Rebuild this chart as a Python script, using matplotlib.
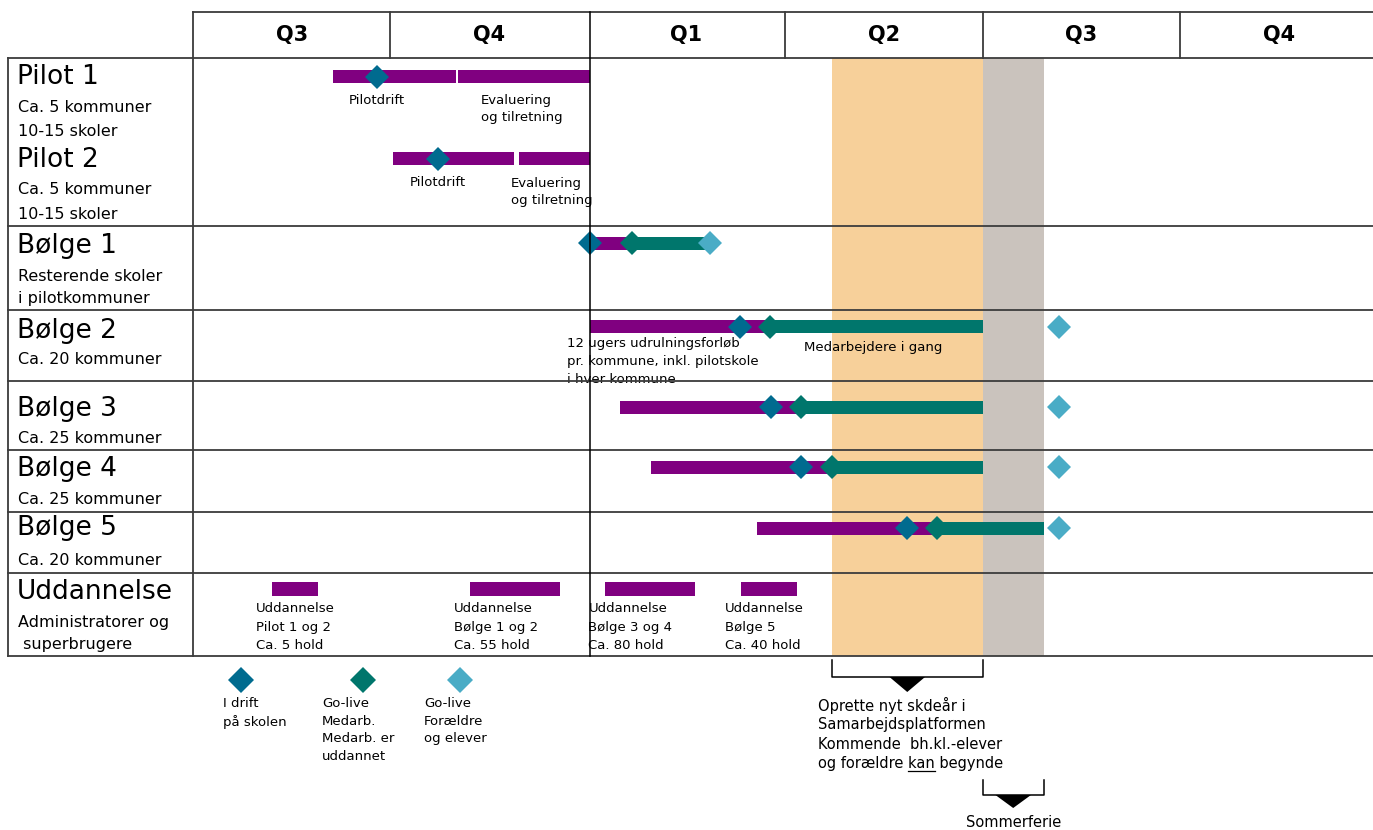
import matplotlib
matplotlib.use("Agg")
import matplotlib.pyplot as plt

# ---- data (months from start of first Q3) ----
quarters = ['Q3', 'Q4', 'Q1', 'Q2', 'Q3', 'Q4']

row_titles = ['Pilot 1', 'Pilot 2', 'Bølge 1', 'Bølge 2', 'Bølge 3', 'Bølge 4', 'Bølge 5', 'Uddannelse']
row_subs = [['Ca. 5 kommuner', '10-15 skoler'], ['Ca. 5 kommuner', '10-15 skoler'],
            ['Resterende skoler', 'i pilotkommuner'], ['Ca. 20 kommuner'],
            ['Ca. 25 kommuner'], ['Ca. 25 kommuner'], ['Ca. 20 kommuner'],
            ['Administratorer og', ' superbrugere']]

# pilot bars (start, end) and pilot drift diamonds
pilot_bars = [[(2.13, 4.0), (4.03, 6.03)], [(3.04, 4.88), (4.95, 6.03)]]
pilot_drift = [2.8, 3.72]

# waves: purple start, blue diamond, teal diamond, teal end, light diamond
wave_start = [6.03, 6.03, 6.49, 6.96, 8.57]
wave_drift = [6.03, 8.31, 8.78, 9.24, 10.85]
wave_golive = [6.67, 8.77, 9.24, 9.71, 11.31]
wave_end = [7.85, 12.0, 12.0, 12.0, 12.93]
wave_parents = [7.85, 13.16, 13.16, 13.16, 13.16]

# training blocks
edu_start = [1.2, 4.21, 6.26, 8.33]
edu_end = [1.9, 5.58, 7.63, 9.18]
edu_labels = ['Uddannelse\nPilot 1 og 2\nCa. 5 hold', 'Uddannelse\nBølge 1 og 2\nCa. 55 hold',
              'Uddannelse\nBølge 3 og 4\nCa. 80 hold', 'Uddannelse\nBølge 5\nCa. 40 hold']

new_year_span = (9.71, 12.0)
summer_span = (12.0, 12.93)

PURPLE = '#800080'
BLUE = '#006b8f'
TEAL = '#00766c'
LIGHT = '#4aacc6'
ORANGE = '#f7d09a'
GRAY = '#cac3bd'
LINE = '#3c3c3c'

# ---- layout ----
X0 = 193.0
MPX = 65.8


def mx(p):
    return (p - X0) / MPX


fig = plt.figure(figsize=(13.73, 8.3), dpi=100)
ax = fig.add_axes([0, 0, 1, 1])
ax.set_xlim(mx(0), mx(1373))
ax.set_ylim(830, 0)
ax.axis('off')

row_y = [77, 159, 243, 327, 407, 467, 528, 589]
title_y = [77, 160, 246, 331, 409, 469, 528, 592]
sub_y = [[108, 131], [190, 214], [276, 298], [359], [438], [499], [560], [622, 644]]
row_lines = [58, 226, 310, 381, 450, 512, 573, 656]
TOP, BOT = 12, 656

# shaded periods
ax.axvspan(*new_year_span, ymin=1 - BOT / 830, ymax=1 - 58 / 830, color=ORANGE, lw=0, zorder=0)
ax.axvspan(*summer_span, ymin=1 - BOT / 830, ymax=1 - 58 / 830, color=GRAY, lw=0, zorder=0)

# grid lines
lw = 1.3
ax.plot([0, mx(1373)], [TOP, TOP], color=LINE, lw=lw, zorder=5)
for y in row_lines:
    ax.plot([mx(8), mx(1373)], [y, y], color=LINE, lw=lw, zorder=5)
ax.plot([mx(8), mx(8)], [58, BOT], color=LINE, lw=lw, zorder=5)
ax.plot([0, 0], [TOP, BOT], color=LINE, lw=lw, zorder=5)
ax.plot([6.03, 6.03], [TOP, BOT], color='black', lw=1.1, zorder=5)
for q in [3, 9, 12, 15]:
    ax.plot([q, q], [TOP, 58], color=LINE, lw=lw, zorder=5)
for i, q in enumerate(quarters):
    ax.text(3 * i + 1.5, 35, q, ha='center', va='center', fontsize=15, fontweight='bold')

# row titles
for t, sub, y, sy in zip(row_titles, row_subs, title_y, sub_y):
    ax.text(mx(17), y, t, ha='left', va='center', fontsize=19)
    for s, yy in zip(sub, sy):
        ax.text(mx(18), yy, s, ha='left', va='center', fontsize=11.5)

BH = 13
# pilots
for bars, d, y in zip(pilot_bars, pilot_drift, row_y[:2]):
    for s, e in bars:
        ax.barh(y, e - s, left=s, height=BH, color=PURPLE, lw=0, zorder=2)
    ax.plot(d, y, 'D', ms=12, color=BLUE, mew=0, zorder=4)
ax.text(pilot_drift[0], 100, 'Pilotdrift', ha='center', va='center', fontsize=9.5)
ax.text(mx(481), 109, 'Evaluering\nog tilretning', ha='left', va='center', fontsize=9.5, linespacing=1.4)
ax.text(pilot_drift[1], 183, 'Pilotdrift', ha='center', va='center', fontsize=9.5)
ax.text(mx(511), 192, 'Evaluering\nog tilretning', ha='left', va='center', fontsize=9.5, linespacing=1.4)

# waves
for i, y in enumerate(row_y[2:7]):
    ax.barh(y, wave_golive[i] - wave_start[i], left=wave_start[i], height=BH, color=PURPLE, lw=0, zorder=2)
    ax.barh(y, wave_end[i] - wave_golive[i], left=wave_golive[i], height=BH, color=TEAL, lw=0, zorder=2)
    ax.plot(wave_drift[i], y, 'D', ms=12, color=BLUE, mew=0, zorder=4)
    ax.plot(wave_golive[i], y, 'D', ms=12, color=TEAL, mew=0, zorder=4)
    ax.plot(wave_parents[i], y, 'D', ms=12, color=LIGHT, mew=0, zorder=4)

ax.text(mx(567), 337, '12 ugers udrulningsforløb\npr. kommune, inkl. pilotskole\ni hver kommune',
        ha='left', va='top', fontsize=9.5, linespacing=1.5, zorder=1)
# the bottom of the note is hidden by the next row
ax.barh(419, mx(832) - mx(540), left=mx(540), height=62, color='white', lw=0, zorder=1.5)
ax.text(mx(804), 347, 'Medarbejdere i gang', ha='left', va='center', fontsize=9.5, zorder=3)

# training
for s, e, lab in zip(edu_start, edu_end, edu_labels):
    ax.barh(row_y[7], e - s, left=s, height=14, color=PURPLE, lw=0, zorder=2)
    ax.text(s - 0.25, 627, lab, ha='left', va='center', fontsize=9.5, linespacing=1.55)

# legend
leg_x = [mx(241), mx(363), mx(460)]
leg_c = [BLUE, TEAL, LIGHT]
leg_t = ['I drift\npå skolen', 'Go-live\nMedarb.\nMedarb. er\nuddannet', 'Go-live\nForældre\nog elever']
leg_l = [mx(223), mx(322), mx(424)]
for x, c, tx, lx in zip(leg_x, leg_c, leg_t, leg_l):
    ax.plot(x, 680, 'D', ms=13, color=c, mew=0)
    ax.text(lx, 697, tx, ha='left', va='top', fontsize=9.5, linespacing=1.45)


# brackets
def bracket(s, e, y0, y1, ytri):
    ax.plot([s, s, e, e], [y0, y1, y1, y0], color='black', lw=1.1)
    c = (s + e) / 2
    ax.fill([c - 0.27, c + 0.27, c], [y1, y1, ytri], color='black', lw=0)


bracket(new_year_span[0], new_year_span[1], 660, 677, 692)
bracket(summer_span[0], summer_span[1], 780, 795, 808)

note = ['Oprette nyt skdeår i', 'Samarbejdsplatformen', 'Kommende  bh.kl.-elever', 'og forældre kan begynde']
for k, line in enumerate(note):
    ax.text(mx(818), 705 + 19.5 * k, line, ha='left', va='center', fontsize=10.5)
ax.text(sum(summer_span) / 2, 822, 'Sommerferie', ha='center', va='center', fontsize=10.5)

# underline "kan"
r = fig.canvas.get_renderer()
tmp1 = ax.text(mx(818), 0, 'og forældre kan', fontsize=10.5)
tmp2 = ax.text(mx(818), 0, 'kan', fontsize=10.5)
w1 = tmp1.get_window_extent(r).width
w2 = tmp2.get_window_extent(r).width
tmp1.remove()
tmp2.remove()
end = 818 + w1
ax.plot([mx(end - w2), mx(end)], [771, 771], color='black', lw=0.9)

fig.savefig('out.png', dpi=100)
